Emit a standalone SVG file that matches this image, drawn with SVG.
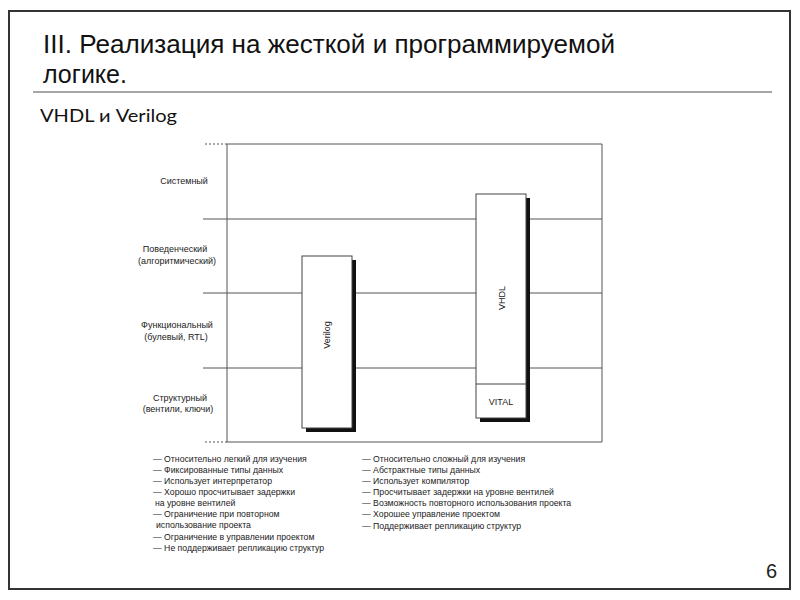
<svg xmlns="http://www.w3.org/2000/svg" width="800" height="600" viewBox="0 0 800 600">
<style>
.grid{stroke:#555;stroke-width:1;fill:none}
.dot{stroke:#555;stroke-width:1;stroke-dasharray:2 2;fill:none}
.lbl{font-family:"Liberation Sans",Arial,sans-serif;font-size:9px;fill:#222;text-anchor:middle}
.lst{font-family:"Liberation Sans",Arial,sans-serif;font-size:8.7px;fill:#1a1a1a}
.box{fill:#fff;stroke:#444;stroke-width:1}
.shadow{fill:#111}
.title{font-family:"Liberation Sans",Arial,sans-serif;font-size:25px;fill:#111}
</style>
<rect x="0" y="0" width="800" height="600" fill="#fff"/>
<rect x="9" y="11" width="781" height="578" fill="none" stroke="#333" stroke-width="2"/>
<g id="title">
<text class="title" x="43" y="53" textLength="572" lengthAdjust="spacingAndGlyphs">III. Реализация на жесткой и программируемой</text>
<text class="title" x="43" y="83">логике.</text>
<line x1="33" y1="92" x2="772" y2="92" stroke="#888" stroke-width="1.5"/>
<text x="40" y="122" font-family="Lato,'Open Sans',sans-serif" font-size="17" fill="#111" textLength="137" lengthAdjust="spacingAndGlyphs">VHDL и Verilog</text>
</g>
<g id="connectors">
<line class="dot" x1="205" y1="144" x2="227" y2="144"/>
<line class="grid" x1="227" y1="144" x2="602" y2="144"/>
<line class="dot" x1="205" y1="442" x2="227" y2="442"/>
<line class="grid" x1="227" y1="442" x2="602" y2="442"/>
<line class="grid" x1="203" y1="219" x2="602" y2="219"/>
<line class="grid" x1="203" y1="293" x2="602" y2="293"/>
<line class="grid" x1="203" y1="368" x2="602" y2="368"/>
<line class="grid" x1="227" y1="144" x2="227" y2="442"/>
<line class="grid" x1="602" y1="144" x2="602" y2="442"/>
</g>
<g id="levels">
<text class="lbl" x="184" y="184">Системный</text>
<text class="lbl" x="175" y="252">Поведенческий</text>
<text class="lbl" x="177" y="264">(алгоритмический)</text>
<text class="lbl" x="177" y="328">Функциональный</text>
<text class="lbl" x="176" y="340">(булевый, RTL)</text>
<text class="lbl" x="180" y="401">Структурный</text>
<text class="lbl" x="178" y="412">(вентили, ключи)</text>
</g>
<g id="verilog">
<rect class="shadow" x="306" y="260" width="50" height="172"/>
<rect class="box" x="302" y="256" width="50" height="172"/>
<text class="lbl" transform="translate(330,335) rotate(-90)">Verilog</text>
</g>
<g id="vhdl">
<rect class="shadow" x="480" y="198" width="50" height="224"/>
<rect class="box" x="476" y="194" width="50" height="224"/>
<line x1="476" y1="384" x2="526" y2="384" stroke="#444" stroke-width="1"/>
<text class="lbl" transform="translate(505,298) rotate(-90)">VHDL</text>
<text class="lbl" x="501" y="405">VITAL</text>
</g>
<g id="verilog-notes">
<text class="lst" x="153" y="462">— Относительно легкий для изучения</text>
<text class="lst" x="153" y="473">— Фиксированные типы данных</text>
<text class="lst" x="153" y="484">— Использует интерпретатор</text>
<text class="lst" x="153" y="495">— Хорошо просчитывает задержки</text>
<text class="lst" x="155" y="506">на уровне вентилей</text>
<text class="lst" x="153" y="517">— Ограничение при повторном</text>
<text class="lst" x="156" y="528">использование проекта</text>
<text class="lst" x="153" y="540">— Ограничение в управлении проектом</text>
<text class="lst" x="153" y="551">— Не поддерживает репликацию структур</text>
</g>
<g id="vhdl-notes">
<text class="lst" x="362" y="462">— Относительно сложный для изучения</text>
<text class="lst" x="362" y="473">— Абстрактные типы данных</text>
<text class="lst" x="362" y="484">— Использует компилятор</text>
<text class="lst" x="362" y="495">— Просчитывает задержки на уровне вентилей</text>
<text class="lst" x="362" y="506">— Возможность повторного использования проекта</text>
<text class="lst" x="362" y="517">— Хорошее управление проектом</text>
<text class="lst" x="362" y="529">— Поддерживает репликацию структур</text>
</g>
<text x="777" y="578" font-family="'Liberation Sans',Arial,sans-serif" font-size="20" fill="#222" text-anchor="end">6</text>
</svg>
